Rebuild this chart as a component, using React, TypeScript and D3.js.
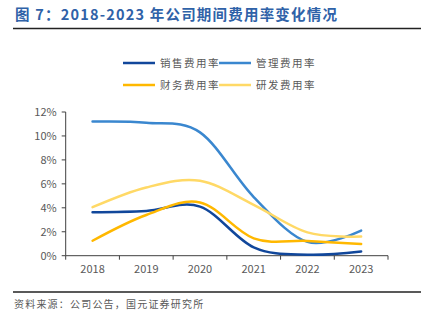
import React from "react";
import * as d3 from "d3";

const years = ["2018", "2019", "2020", "2021", "2022", "2023"];
const sales = [3.63, 3.74, 4.1, 0.7, 0.08, 0.35];
const admin = [11.2, 11.1, 10.3, 4.9, 1.15, 2.1];
const finance = [1.25, 3.4, 4.45, 1.45, 1.23, 0.98];
const rnd = [4.05, 5.7, 6.25, 4.25, 1.95, 1.6];
const yTicks = [0, 2, 4, 6, 8, 10, 12];

const seriesNames = ["销售费用率", "管理费用率", "财务费用率", "研发费用率"];
const seriesColors = ["#11479B", "#3A87CF", "#FFB800", "#FFD966"];
const seriesData = [sales, admin, finance, rnd];

const font = "'Noto Sans CJK SC', 'Liberation Sans', Arial, sans-serif";

export default function App() {
  const W = 421, H = 325;
  const left = 65.7, right = 388, top = 112, bottom = 255.7;
  const x = d3.scaleBand().domain(years).range([left, right]);
  const y = d3.scaleLinear().domain([0, 12]).range([bottom, top]);
  const line = d3
    .line<number>()
    .x((_, i) => (x(years[i]) as number) + x.bandwidth() / 2)
    .y((d) => y(d))
    .curve(d3.curveCardinal.tension(0));

  const legendPos = [
    [123, 63],
    [219, 63],
    [123, 85],
    [219, 85],
  ];

  return (
    <svg
      width={W}
      height={H}
      style={{ position: "absolute", left: 0, top: 0, background: "#fff" }}
      fontFamily={font}
    >
      <text x={15} y={20} fontSize={14.5} fontWeight="bold" fill="#2F62A8" letterSpacing={1.2}>
        图 7：2018-2023 年公司期间费用率变化情况
      </text>
      <line x1={13} x2={421} y1={28.5} y2={28.5} stroke="#222" strokeWidth={1.5} />

      {seriesNames.map((n, i) => (
        <g key={n}>
          <line
            x1={legendPos[i][0]}
            x2={legendPos[i][0] + 32}
            y1={legendPos[i][1]}
            y2={legendPos[i][1]}
            stroke={seriesColors[i]}
            strokeWidth={2.5}
          />
          <text
            x={legendPos[i][0] + 37}
            y={legendPos[i][1] + 4}
            fontSize={10.5}
            fill="#595959"
            letterSpacing={1.5}
          >
            {n}
          </text>
        </g>
      ))}

      {/* y axis */}
      <line x1={left} x2={left} y1={top} y2={bottom} stroke="#404040" strokeWidth={1} />
      {yTicks.map((t) => (
        <g key={t}>
          <line x1={left - 4} x2={left} y1={y(t)} y2={y(t)} stroke="#404040" />
          <text x={left - 9} y={y(t) + 4} fontSize={11} fill="#595959" textAnchor="end">
            {t}%
          </text>
        </g>
      ))}
      {/* x axis */}
      <line x1={left} x2={right} y1={bottom} y2={bottom} stroke="#404040" strokeWidth={1} />
      {years.map((yr) => (
        <g key={yr}>
          <line
            x1={x(yr) as number}
            x2={x(yr) as number}
            y1={bottom}
            y2={bottom + 4}
            stroke="#404040"
          />
          <text
            x={(x(yr) as number) + x.bandwidth() / 2}
            y={bottom + 17}
            fontSize={11}
            fill="#595959"
            textAnchor="middle"
          >
            {yr}
          </text>
        </g>
      ))}
      <line x1={right} x2={right} y1={bottom} y2={bottom + 4} stroke="#404040" />

      {seriesData.map((d, i) => (
        <path
          key={i}
          d={line(d) || ""}
          fill="none"
          stroke={seriesColors[i]}
          strokeWidth={2.5}
          strokeLinecap="round"
        />
      ))}

      <line x1={13} x2={421} y1={292} y2={292} stroke="#222" strokeWidth={1.5} />
      <text x={14} y={308} fontSize={10} fill="#595959" letterSpacing={1.2}>
        资料来源：公司公告，国元证券研究所
      </text>
    </svg>
  );
}
